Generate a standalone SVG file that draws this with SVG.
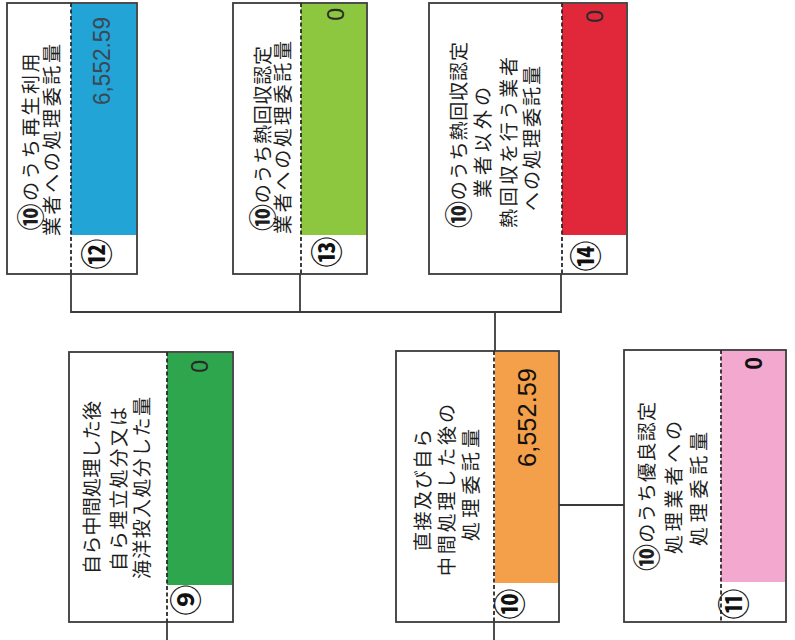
<svg xmlns="http://www.w3.org/2000/svg" width="795" height="640" viewBox="0 0 795 640">
<style>
.box{fill:#fff;stroke:#3a3a3a;stroke-width:1.8}
.dash{stroke:#2a2a2a;stroke-width:1.8;stroke-dasharray:4 2.5;fill:none}
.conn{stroke:#3a3a3a;stroke-width:1.8;fill:none}
.lbl{font-family:"Noto Sans CJK JP","Noto Sans CJK SC",sans-serif;font-size:19px;fill:#1e1e1e;text-anchor:middle;dominant-baseline:central}
.c{font-size:27px;font-weight:bold}
.num{font-family:"Noto Sans CJK JP",sans-serif;font-size:31px;font-weight:bold;fill:#111;text-anchor:middle;dominant-baseline:central}
.val{font-family:"Liberation Sans",Arial,sans-serif;font-size:23px;fill:#2a2a2a;text-anchor:end;dominant-baseline:central}
</style>
<rect width="795" height="640" fill="#fff"/>

<g id="connectors">
<path class="conn" d="M71 274 V312 H561 V274"/>
<path class="conn" d="M300 274 V312"/>
<path class="conn" d="M495 312 V351"/>
<path class="conn" d="M559 505 H624"/>
<path class="conn" d="M167 622 V640"/>
<path class="conn" d="M494 622 V640"/>
</g>

<g id="node12">
<rect class="box" x="7" y="3" width="130" height="271"/>
<rect x="71" y="4" width="65" height="231" fill="#22a4d6"/>
<line class="dash" x1="71" y1="3" x2="71" y2="274"/>
<text class="lbl" transform="translate(29,142) rotate(-90)" textLength="177" lengthAdjust="spacing"><tspan class="c">⑩</tspan>のうち再生利用</text>
<text class="lbl" transform="translate(50,140) rotate(-90)" textLength="192" lengthAdjust="spacing">業者への処理委託量</text>
<text class="val" transform="translate(102,17) rotate(-90)" style="fill:#3c4852" textLength="88" lengthAdjust="spacingAndGlyphs">6,552.59</text>
<text class="num" transform="translate(94,254) rotate(-90)">⑫</text>
</g>

<g id="node13">
<rect class="box" x="233" y="3" width="134" height="271"/>
<rect x="301" y="4" width="65" height="231" fill="#8dc63f"/>
<line class="dash" x1="301" y1="3" x2="301" y2="274"/>
<text class="lbl" transform="translate(261,138.5) rotate(-90)" textLength="185" lengthAdjust="spacing"><tspan class="c">⑩</tspan>のうち熱回収認定</text>
<text class="lbl" transform="translate(281,137.5) rotate(-90)" textLength="193" lengthAdjust="spacing">業者への処理委託量</text>
<text class="val" transform="translate(336,8) rotate(-90)">0</text>
<text class="num" transform="translate(324,252) rotate(-90)">⑬</text>
</g>

<g id="node14">
<rect class="box" x="429" y="3" width="198" height="271"/>
<rect x="562" y="4" width="64" height="231" fill="#e0283a"/>
<line class="dash" x1="562" y1="3" x2="562" y2="274"/>
<text class="lbl" transform="translate(457,135) rotate(-90)" textLength="186" lengthAdjust="spacing"><tspan class="c">⑩</tspan>のうち熱回収認定</text>
<text class="lbl" transform="translate(481,142.5) rotate(-90)" textLength="111" lengthAdjust="spacing">業者以外の</text>
<text class="lbl" transform="translate(507,142.5) rotate(-90)" textLength="171" lengthAdjust="spacing">熱回収を行う業者</text>
<text class="lbl" transform="translate(530,138.5) rotate(-90)" textLength="145" lengthAdjust="spacing">への処理委託量</text>
<text class="val" transform="translate(595,10) rotate(-90)">0</text>
<text class="num" transform="translate(583,256) rotate(-90)">⑭</text>
</g>

<g id="node9">
<rect class="box" x="69" y="352" width="164" height="270"/>
<rect x="167" y="353" width="65" height="232" fill="#2ea64e"/>
<line class="dash" x1="167" y1="352" x2="167" y2="622"/>
<text class="lbl" transform="translate(90,487.5) rotate(-90)" textLength="173" lengthAdjust="spacing">自ら中間処理した後</text>
<text class="lbl" transform="translate(117,489) rotate(-90)" textLength="164" lengthAdjust="spacing">自ら埋立処分又は</text>
<text class="lbl" transform="translate(140,488) rotate(-90)" textLength="182" lengthAdjust="spacing">海洋投入処分した量</text>
<text class="val" transform="translate(200,360) rotate(-90)">0</text>
<text class="num" transform="translate(183,600) rotate(-90)">⑨</text>
</g>

<g id="node10">
<rect class="box" x="396" y="351" width="163" height="271"/>
<rect x="495" y="352" width="63" height="231" fill="#f4a04a"/>
<line class="dash" x1="494" y1="351" x2="494" y2="622"/>
<text class="lbl" transform="translate(421,490) rotate(-90)" textLength="122" lengthAdjust="spacing">直接及び自ら</text>
<text class="lbl" transform="translate(445,490) rotate(-90)" textLength="172" lengthAdjust="spacing">中間処理した後の</text>
<text class="lbl" transform="translate(469,485) rotate(-90)" textLength="112" lengthAdjust="spacing">処理委託量</text>
<text class="val" transform="translate(527,368) rotate(-90)" style="font-size:25px;fill:#111" textLength="99" lengthAdjust="spacingAndGlyphs">6,552.59</text>
<text class="num" transform="translate(507,604) rotate(-90)">⑩</text>
</g>

<g id="node11">
<rect class="box" x="624" y="350" width="162" height="272"/>
<rect x="721" y="351" width="64" height="231" fill="#f3a8cf"/>
<line class="dash" x1="721" y1="350" x2="721" y2="622"/>
<text class="lbl" transform="translate(645,486.5) rotate(-90)" textLength="169" lengthAdjust="spacing"><tspan class="c">⑩</tspan>のうち優良認定</text>
<text class="lbl" transform="translate(672,487.5) rotate(-90)" textLength="133" lengthAdjust="spacing">処理業者への</text>
<text class="lbl" transform="translate(697,489) rotate(-90)" textLength="114" lengthAdjust="spacing">処理委託量</text>
<text class="val" transform="translate(754,357) rotate(-90)" style="font-weight:bold;fill:#111">0</text>
<text class="num" transform="translate(731,604) rotate(-90)">⑪</text>
</g>
</svg>
